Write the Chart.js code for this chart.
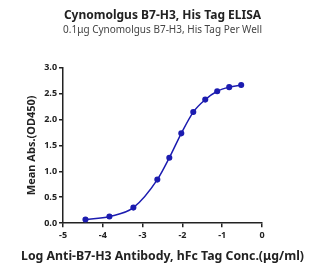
<!DOCTYPE html>
<html>
<head>
<meta charset="utf-8">
<script src="https://cdn.jsdelivr.net/npm/chart.js@4"></script>
<style>
  html, body { margin: 0; padding: 0; background: #fff; }
  #wrap { width: 335px; height: 274px; }
</style>
</head>
<body>
<div id="wrap"><canvas id="elisaChart" width="335" height="274"></canvas></div>
<script>
// Log concentration (ug/ml) and mean absorbance
const logConc = [-4.436, -3.834, -3.232, -2.630, -2.329, -2.028, -1.727, -1.426, -1.125, -0.824, -0.523];
const meanAbs = [0.07, 0.13, 0.30, 0.84, 1.26, 1.73, 2.14, 2.38, 2.54, 2.62, 2.66];
const xTicks = [-5, -4, -3, -2, -1, 0];
const yTicks = [0.0, 0.5, 1.0, 1.5, 2.0, 2.5, 3.0];

const lineColor = "#1c1cb0";
const axisColor = "#222";
const fontFamily = "'Noto Sans', 'Open Sans', sans-serif";
const xTitle = "Log Anti-B7-H3 Antibody, hFc Tag Conc.(\u03bcg/ml)";

const points = logConc.map((x, i) => ({ x: x, y: meanAbs[i] }));

// The x title is wider than the plot, so draw it ourselves
// (the built-in axis title gets squeezed to the axis width)
const xTitlePlugin = {
  id: "xTitle",
  afterDraw(chart) {
    const ctx = chart.ctx;
    const area = chart.chartArea;
    ctx.save();
    ctx.font = "bold 12.3px " + fontFamily;
    ctx.fillStyle = "#222";
    ctx.textAlign = "center";
    ctx.textBaseline = "middle";
    ctx.fillText(xTitle, (area.left + area.right) / 2, chart.scales.x.bottom + 12);
    ctx.restore();
  },
};

new Chart(document.getElementById("elisaChart"), {
  type: "scatter",
  data: {
    datasets: [{
      data: points,
      showLine: true,
      borderColor: lineColor,
      backgroundColor: lineColor,
      borderWidth: 1.5,
      pointRadius: 2.3,
      pointHoverRadius: 2.3,
      cubicInterpolationMode: "monotone",
    }],
  },
  options: {
    responsive: false,
    animation: false,
    layout: { padding: { left: 21, right: 73, top: 4, bottom: 30 } },
    plugins: {
      legend: { display: false },
      tooltip: { enabled: false },
      title: {
        display: true,
        fullSize: false,
        text: "Cynomolgus B7-H3, His Tag ELISA",
        color: "#222",
        font: { family: fontFamily, size: 12, weight: "bold" },
        padding: { top: 4, bottom: 2 },
      },
      subtitle: {
        display: true,
        fullSize: false,
        text: "0.1\u03bcg Cynomolgus B7-H3, His Tag Per Well",
        color: "#444",
        font: { family: fontFamily, size: 10 },
        padding: { bottom: 31 },
      },
    },
    scales: {
      x: {
        type: "linear",
        min: -5,
        max: 0,
        afterBuildTicks: (axis) => { axis.ticks = xTicks.map((v) => ({ value: v })); },
        grid: { display: true, drawOnChartArea: false, drawTicks: true, tickLength: 4, color: axisColor, lineWidth: 1.5 },
        border: { display: true, color: axisColor, width: 1.5 },
        ticks: { color: "#222", font: { family: fontFamily, size: 9, weight: "bold" }, padding: 3 },
        title: { display: false },
      },
      y: {
        min: 0,
        max: 3,
        afterBuildTicks: (axis) => { axis.ticks = yTicks.map((v) => ({ value: v })); },
        grid: { display: true, drawOnChartArea: false, drawTicks: true, tickLength: 4, color: axisColor, lineWidth: 1.5 },
        border: { display: true, color: axisColor, width: 1.5 },
        ticks: {
          color: "#222",
          font: { family: fontFamily, size: 9, weight: "bold" },
          padding: 2,
          callback: (v) => Number(v).toFixed(1),
        },
        title: {
          display: true,
          text: "Mean Abs.(OD450)",
          color: "#222",
          font: { family: fontFamily, size: 11, weight: "bold" },
          padding: { bottom: 4 },
        },
      },
    },
  },
  plugins: [xTitlePlugin],
});
</script>
</body>
</html>
